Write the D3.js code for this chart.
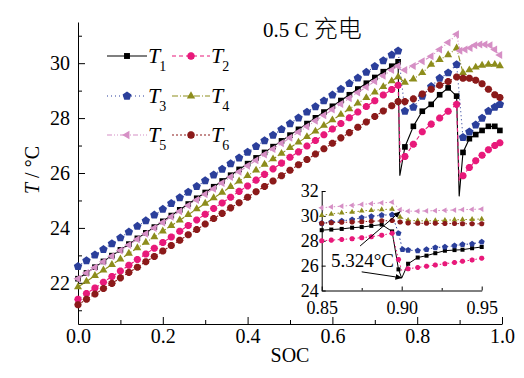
<!DOCTYPE html>
<html><head><meta charset="utf-8">
<script src="https://cdn.jsdelivr.net/npm/d3@7"></script>
<style>body{margin:0;background:#fff}svg{display:block}</style>
</head><body><svg id="c" width="524" height="378"></svg>
<script>
// ---------------- data ----------------
const seriesNames = ["1","2","3","4","5","6"];
const seriesColors = ["#000000","#e8197a","#2b3f9b","#8d8d1c","#d68fc5","#8b1a1a"];
const seriesDash = ["", "4,3", "1,3", "6,2,1,2", "5,2,1,2,1,2", "2,2"];
const seriesMarker = ["square","circle","pentagon","triUp","triLeft","circle"];

const segSoc1 = [0,0.02,0.04,0.06,0.08,0.1,0.12,0.14,0.16,0.18,0.2,0.22,0.24,0.26,0.28,0.3,0.32,0.34,0.36,0.38,0.4,0.42,0.44,0.46,0.48,0.5,0.52,0.54,0.56,0.58,0.6,0.62,0.64,0.66,0.68,0.7,0.72,0.74,0.755];
const segSoc2 = [0.771,0.791,0.812,0.833,0.853,0.873,0.893];
const segSoc3 = [0.908,0.923,0.938,0.953,0.968,0.983,0.995];
const segSoc3T5 = [0.901,0.913,0.925,0.936,0.948,0.960,0.972,0.983,0.995];

const t1 = [22.15,22.36,22.57,22.78,22.99,23.20,23.41,23.62,23.82,24.03,24.24,24.45,24.66,24.87,25.08,25.29,25.50,25.71,25.92,26.13,26.34,26.55,26.75,26.96,27.17,27.38,27.59,27.80,28.01,28.22,28.43,28.64,28.85,29.06,29.27,29.48,29.69,29.89,30.05,
  26.95,27.70,28.25,28.50,28.85,29.10,28.80,
  26.75,27.25,27.40,27.55,27.70,27.70,27.55];
const t2 = [21.40,21.61,21.81,22.02,22.23,22.43,22.64,22.85,23.05,23.26,23.47,23.67,23.88,24.09,24.29,24.50,24.71,24.91,25.12,25.33,25.53,25.74,25.95,26.15,26.36,26.57,26.77,26.98,27.18,27.39,27.60,27.80,28.01,28.22,28.42,28.63,28.84,29.04,29.20,
  26.60,27.05,27.50,27.78,28.00,28.25,28.50,
  25.90,26.20,26.45,26.65,26.85,27.00,27.10];
const t3 = [22.60,22.81,23.02,23.22,23.43,23.64,23.85,24.06,24.26,24.47,24.68,24.89,25.10,25.30,25.51,25.72,25.93,26.14,26.34,26.55,26.76,26.97,27.18,27.38,27.59,27.80,28.01,28.22,28.42,28.63,28.84,29.05,29.26,29.46,29.67,29.88,30.09,30.30,30.45,
  28.25,28.40,28.80,29.15,29.45,29.65,29.95,
  27.30,27.50,27.75,28.00,28.25,28.40,28.50];
const t4 = [21.85,22.05,22.26,22.46,22.66,22.86,23.07,23.27,23.47,23.67,23.88,24.08,24.28,24.48,24.69,24.89,25.09,25.29,25.50,25.70,25.90,26.10,26.31,26.51,26.71,26.92,27.12,27.32,27.52,27.73,27.93,28.13,28.33,28.54,28.74,28.94,29.14,29.35,29.50,
  29.30,29.42,29.65,29.95,30.13,30.30,30.55,
  29.65,29.75,29.85,29.92,29.95,29.95,29.90];
const t5 = [22.15,22.36,22.56,22.77,22.97,23.18,23.38,23.59,23.79,24.00,24.20,24.41,24.61,24.82,25.02,25.23,25.43,25.64,25.85,26.05,26.26,26.46,26.67,26.87,27.08,27.28,27.49,27.69,27.90,28.10,28.31,28.51,28.72,28.93,29.13,29.34,29.54,29.75,29.90,
  29.75,29.90,30.07,30.25,30.50,30.75,31.05,
  30.45,30.50,30.55,30.65,30.68,30.68,30.65,30.50,30.30];
const t6 = [21.20,21.40,21.59,21.79,21.98,22.18,22.38,22.57,22.77,22.96,23.16,23.36,23.55,23.75,23.94,24.14,24.34,24.53,24.73,24.92,25.12,25.32,25.51,25.71,25.90,26.10,26.30,26.49,26.69,26.88,27.08,27.28,27.47,27.67,27.86,28.06,28.26,28.45,28.60,
  28.60,28.70,28.88,29.05,29.20,29.33,29.50,
  29.45,29.45,29.38,29.25,29.05,28.85,28.75];
// line-only minima at the two drops
const t1Dips = [[0.759,25.9],[0.899,25.15]];
const t2Dips = [[0.760,26.4],[0.899,25.75]];
const t3Dips = [];
const t4Dips = [];
const t5Dips = [];
const t6Dips = [];

// inset (0.85 – 0.95)
const inSocPre = [0.85,0.856,0.8625,0.869,0.875,0.881,0.8875,0.894];
const inSocPost = [0.904,0.910,0.9155,0.921,0.927,0.933,0.938,0.944,0.95];
const in1 = [28.85,28.90,28.95,29.05,29.10,29.20,29.30,28.75, 26.15,26.65,26.80,27.00,27.20,27.25,27.28,27.40,27.50];
const in2 = [28.00,28.05,28.10,28.17,28.25,28.32,28.45,28.60, 25.75,25.85,25.95,26.05,26.15,26.25,26.35,26.45,26.60];
const in3 = [29.40,29.50,29.60,29.70,29.85,29.95,30.05,30.10, 27.25,27.20,27.30,27.45,27.50,27.60,27.70,27.75,27.90];
const in4 = [30.05,30.15,30.25,30.30,30.40,30.45,30.50,30.55, 29.65,29.60,29.60,29.62,29.65,29.68,29.70,29.72,29.75];
const in5 = [30.65,30.72,30.78,30.85,30.92,30.98,31.05,31.10, 30.38,30.38,30.40,30.42,30.45,30.47,30.50,30.52,30.55];
const in6 = [29.40,29.45,29.48,29.50,29.53,29.57,29.60,29.62, 29.42,29.40,29.40,29.40,29.38,29.38,29.37,29.36,29.36];
const inMid1 = [[0.898,25.7]];
const inMid2 = [[0.898,26.5]];
const inMid3 = [[0.898,28.6],[0.9005,27.3]];
const inMid4 = [[0.899,29.9]];
const inMid5 = [[0.899,30.5]];
const inMid6 = [[0.899,29.5]];
const inDip1 = [[0.900,25.0]];
const inDip2 = [[0.900,25.6]];
const annotText = "5.324°C";
const annotArrows = [[[0.874,27.58],[0.899,30.33]],[[0.875,25.5],[0.900,25.02]]];

const xTicksMain = [0,0.2,0.4,0.6,0.8,1.0];
const xMinorMain = [0.1,0.3,0.5,0.7,0.9];
const yTicksMain = [22,24,26,28,30];
const yMinorMain = [21,23,25,27,29,31];
const xTicksIn = [0.85,0.90,0.95];
const xMinorIn = [0.875,0.925];
const yTicksIn = [24,26,28,30,32];

// ---------------- drawing ----------------
const svg = d3.select("#c");
const FONT = "'Liberation Serif','Times New Roman',serif";
const x = d3.scaleLinear().domain([0,1]).range([78,502]);
const y = d3.scaleLinear().domain([20.5,31.5]).range([324,22]);
const xi = d3.scaleLinear().domain([0.85,0.95]).range([321.7,481.7]);
const yi = d3.scaleLinear().domain([24,32]).range([290.5,191]);

function poly(n, r, start){
  const p=[]; for(let k=0;k<n;k++){const a=start+k*2*Math.PI/n; p.push([r*Math.cos(a), r*Math.sin(a)]);}
  return "M"+p.map(q=>q[0].toFixed(2)+","+q[1].toFixed(2)).join("L")+"Z";
}
function markerPath(kind, s){
  switch(kind){
    case "square": return poly(4, s*0.95, Math.PI/4);
    case "circle": return poly(10, s*0.88, 0);
    case "pentagon": return poly(5, s*1.05, -Math.PI/2);
    case "triUp": return poly(3, s*1.1, -Math.PI/2);
    case "triLeft": return poly(3, s*1.1, Math.PI);
  }
}

const mainData = [
  {v:t1, soc:segSoc1.concat(segSoc2,segSoc3), dips:t1Dips},
  {v:t2, soc:segSoc1.concat(segSoc2,segSoc3), dips:t2Dips},
  {v:t3, soc:segSoc1.concat(segSoc2,segSoc3), dips:t3Dips},
  {v:t4, soc:segSoc1.concat(segSoc2,segSoc3), dips:t4Dips},
  {v:t5, soc:segSoc1.concat(segSoc2,segSoc3T5), dips:t5Dips},
  {v:t6, soc:segSoc1.concat(segSoc2,segSoc3), dips:t6Dips},
];
const inData = [
  {v:in1, mid:inMid1, dips:inDip1},
  {v:in2, mid:inMid2, dips:inDip2},
  {v:in3, mid:inMid3, dips:[]},
  {v:in4, mid:inMid4, dips:[]},
  {v:in5, mid:inMid5, dips:[]},
  {v:in6, mid:inMid6, dips:[]},
];
const inSoc = inSocPre.concat(inSocPost);

// main axes
function styleAxis(g, fs){
  g.select(".domain").attr("stroke","#000").attr("stroke-width",1);
  g.selectAll(".tick line").attr("stroke","#000");
  g.selectAll("text").attr("font-family",FONT).attr("font-size",fs).attr("fill","#000");
}
const gx = svg.append("g").attr("transform","translate(0,324)")
  .call(d3.axisBottom(x).tickValues(xTicksMain).tickFormat(d3.format(".1f")).tickSize(-7).tickSizeOuter(0).tickPadding(5));
styleAxis(gx,20);
svg.append("g").attr("transform","translate(0,324)")
  .call(d3.axisBottom(x).tickValues(xMinorMain).tickFormat("").tickSize(-4).tickSizeOuter(0))
  .call(g=>g.select(".domain").remove());
const gy = svg.append("g").attr("transform","translate(78,0)")
  .call(d3.axisLeft(y).tickValues(yTicksMain).tickFormat(d3.format("d")).tickSize(-7).tickSizeOuter(0).tickPadding(8));
styleAxis(gy,20);
svg.append("g").attr("transform","translate(78,0)")
  .call(d3.axisLeft(y).tickValues(yMinorMain).tickFormat("").tickSize(-4).tickSizeOuter(0))
  .call(g=>g.select(".domain").remove());

// axis titles
svg.append("text").attr("x",290).attr("y",362).attr("text-anchor","middle")
  .attr("font-family",FONT).attr("font-size",20).text("SOC");
const yl = svg.append("text").attr("transform","translate(39,170) rotate(-90)").attr("text-anchor","middle")
  .attr("font-family",FONT).attr("font-size",20);
yl.append("tspan").attr("font-style","italic").text("T");
yl.append("tspan").text(" / °C");

// title
const tt = svg.append("text").attr("x",263).attr("y",37).attr("font-family",FONT).attr("font-size",21);
tt.append("tspan").text("0.5 C ");
tt.append("tspan").attr("font-family","'Noto Sans CJK SC',sans-serif").attr("font-weight",300).attr("font-size",24).text("充电");

// main series
const line = d3.line().x(d=>x(d[0])).y(d=>y(d[1]));
mainData.forEach((s,i)=>{
  const pts = s.soc.map((c,k)=>[c,s.v[k]]);
  const all = pts.concat(s.dips).sort((a,b)=>a[0]-b[0]);
  svg.append("path").attr("d",line(all)).attr("fill","none").attr("stroke",seriesColors[i])
    .attr("stroke-width",1.1).attr("stroke-dasharray",seriesDash[i]||null);
  svg.append("g").selectAll("path").data(pts).join("path")
    .attr("transform",d=>`translate(${x(d[0])},${y(d[1])})`)
    .attr("d",markerPath(seriesMarker[i],4.2)).attr("fill",seriesColors[i]);
});

// inset axes
const gxi = svg.append("g").attr("transform","translate(0,290.5)")
  .call(d3.axisBottom(xi).tickValues(xTicksIn).tickFormat(d3.format(".2f")).tickSize(-4).tickSizeOuter(0).tickPadding(11));
styleAxis(gxi,18);
svg.append("g").attr("transform","translate(0,290.5)")
  .call(d3.axisBottom(xi).tickValues(xMinorIn).tickFormat("").tickSize(-2.5).tickSizeOuter(0))
  .call(g=>g.select(".domain").remove());
const gyi = svg.append("g").attr("transform","translate(321.7,0)")
  .call(d3.axisLeft(yi).tickValues(yTicksIn).tickFormat(d3.format("d")).tickSize(-4).tickSizeOuter(0).tickPadding(3));
styleAxis(gyi,18);

// inset series
const linei = d3.line().x(d=>xi(d[0])).y(d=>yi(d[1]));
inData.forEach((s,i)=>{
  const pts = inSoc.map((c,k)=>[c,s.v[k]]).concat(s.mid).sort((a,b)=>a[0]-b[0]);
  const all = pts.concat(s.dips).sort((a,b)=>a[0]-b[0]);
  svg.append("path").attr("d",linei(all)).attr("fill","none").attr("stroke",seriesColors[i])
    .attr("stroke-width",1).attr("stroke-dasharray",i===0?null:"1.5,2.5");
  svg.append("g").selectAll("path").data(pts).join("path")
    .attr("transform",d=>`translate(${xi(d[0])},${yi(d[1])})`)
    .attr("d",markerPath(seriesMarker[i],3)).attr("fill",seriesColors[i]);
});

// annotation
const defs = svg.append("defs");
defs.append("marker").attr("id","ah").attr("viewBox","0 0 10 10").attr("refX",9).attr("refY",5)
  .attr("markerWidth",7).attr("markerHeight",7).attr("orient","auto-start-reverse")
  .append("path").attr("d","M0,1L10,5L0,9Z").attr("fill","#000");
annotArrows.forEach(a=>{
  svg.append("line").attr("x1",xi(a[0][0])).attr("y1",yi(a[0][1])).attr("x2",xi(a[1][0])).attr("y2",yi(a[1][1]))
    .attr("stroke","#000").attr("stroke-width",1).attr("marker-end","url(#ah)");
});
svg.append("text").attr("x",331).attr("y",267).attr("font-family",FONT).attr("font-size",19).text(annotText);

// legend
const legX = [107,172], legRowY = [56,96,135];
seriesNames.forEach((n,i)=>{
  const col=i%2, row=Math.floor(i/2);
  const lx=legX[col], ly=legRowY[row];
  const lw = col===0?40:38;
  svg.append("line").attr("x1",lx).attr("x2",lx+lw).attr("y1",ly).attr("y2",ly)
    .attr("stroke",seriesColors[i]).attr("stroke-width",1.1).attr("stroke-dasharray",seriesDash[i]||null);
  svg.append("path").attr("transform",`translate(${lx+lw/2},${ly})`).attr("d",markerPath(seriesMarker[i],4.4)).attr("fill",seriesColors[i]);
  const t = svg.append("text").attr("x",lx+lw+1).attr("y",ly+7).attr("font-family",FONT).attr("font-size",22);
  t.append("tspan").attr("font-style","italic").text("T");
  t.append("tspan").attr("font-size",14).attr("dy",8).attr("dx",-1).text(n);
});
</script>
</body></html>
